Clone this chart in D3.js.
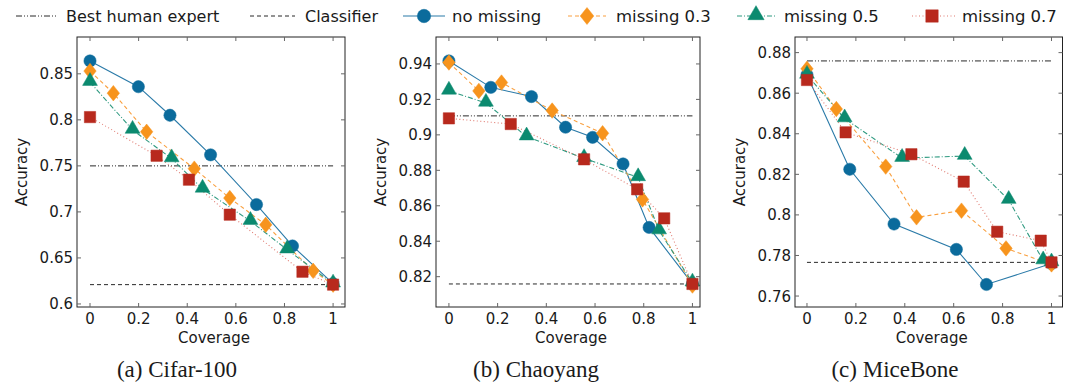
<!DOCTYPE html>
<html>
<head>
<meta charset="utf-8">
<script src="https://cdn.jsdelivr.net/npm/d3@7"></script>
<style>
  body { margin: 0; background: #fff; }
  svg text { font-family: "DejaVu Sans", sans-serif; fill: #1a1a1a; }
  .title { font-family: "Liberation Serif", serif; }
</style>
</head>
<body>
<svg id="chart" width="1065" height="383"></svg>
<script>
const seriesNames = ["no missing", "missing 0.3", "missing 0.5", "missing 0.7"];

// Cifar-100
const cifarNoMissing = [[0, 0.864], [0.199, 0.836], [0.329, 0.805], [0.496, 0.762], [0.685, 0.708], [0.833, 0.663], [1, 0.622]];
const cifarMiss03 = [[0, 0.853], [0.096, 0.829], [0.233, 0.787], [0.429, 0.747], [0.575, 0.715], [0.723, 0.686], [0.918, 0.636], [1, 0.621]];
const cifarMiss05 = [[0, 0.841], [0.175, 0.789], [0.336, 0.758], [0.463, 0.725], [0.660, 0.690], [0.811, 0.659], [1, 0.622]];
const cifarMiss07 = [[0, 0.803], [0.274, 0.761], [0.407, 0.735], [0.575, 0.697], [0.874, 0.635], [1, 0.621]];
const cifarExpert = 0.75, cifarClassifier = 0.621;

// Chaoyang
const chaoNoMissing = [[0, 0.9417], [0.172, 0.9268], [0.339, 0.9216], [0.479, 0.9043], [0.590, 0.8986], [0.715, 0.8836], [0.822, 0.8478], [1, 0.8159]];
const chaoMiss03 = [[0, 0.9408], [0.123, 0.9248], [0.216, 0.9295], [0.424, 0.9137], [0.631, 0.9009], [0.795, 0.8636], [1, 0.8150]];
const chaoMiss05 = [[0, 0.9248], [0.152, 0.9180], [0.319, 0.8990], [0.555, 0.8868], [0.777, 0.8760], [0.863, 0.8460], [1, 0.8166]];
const chaoMiss07 = [[0, 0.9093], [0.254, 0.9061], [0.555, 0.8862], [0.773, 0.8693], [0.884, 0.8529], [1, 0.8159]];
const chaoExpert = 0.9107, chaoClassifier = 0.8159;

// MiceBone
const miceNoMissing = [[0, 0.8690], [0.175, 0.8225], [0.356, 0.7955], [0.611, 0.7830], [0.734, 0.7657], [1, 0.7760]];
const miceMiss03 = [[0, 0.8720], [0.120, 0.8522], [0.322, 0.8238], [0.448, 0.7988], [0.632, 0.8021], [0.814, 0.7835], [1, 0.7756]];
const miceMiss05 = [[0, 0.8690], [0.154, 0.8475], [0.389, 0.8280], [0.645, 0.8290], [0.825, 0.8073], [0.966, 0.7775], [1, 0.7765]];
const miceMiss07 = [[0, 0.8665], [0.158, 0.8407], [0.427, 0.8299], [0.641, 0.8164], [0.778, 0.7917], [0.956, 0.7873], [1, 0.7766]];
const miceExpert = 0.8759, miceClassifier = 0.7766;

const xTicks = [0, 0.2, 0.4, 0.6, 0.8, 1];
const cifarYTicks = [0.6, 0.65, 0.7, 0.75, 0.8, 0.85];
const chaoYTicks = [0.82, 0.84, 0.86, 0.88, 0.9, 0.92, 0.94];
const miceYTicks = [0.76, 0.78, 0.8, 0.82, 0.84, 0.86, 0.88];
const titles = ["(a) Cifar-100", "(b) Chaoyang", "(c) MiceBone"];

const colors = ["#0b6b9c", "#f7941d", "#0b8a6f", "#b8291d"];
const lineColors = ["#2a7aa8", "#f9a040", "#2f9a80", "#e07a70"];
const dashes = [null, "4,3", "5,2,1,2", "1,2.5"];

// pgfplots-like diamond: wider than d3's default
const fatDiamond = {
  draw(ctx, size) {
    const h = Math.sqrt(size / 2.5), w = h * 0.8;
    ctx.moveTo(0, -h); ctx.lineTo(w, 0); ctx.lineTo(0, h); ctx.lineTo(-w, 0); ctx.closePath();
  }
};
const shapes = [d3.symbolCircle, fatDiamond, d3.symbolTriangle, d3.symbolSquare];
const sizes = [118, 150, 95, 128];

const panels = [
  { left: 77, right: 345, xd: [-0.0535, 1.049], yd: [0.5967, 0.890], yt: cifarYTicks,
    series: [cifarNoMissing, cifarMiss03, cifarMiss05, cifarMiss07], expert: cifarExpert, clf: cifarClassifier, titleX: 177 },
  { left: 436, right: 700, xd: [-0.053, 1.031], yd: [0.8029, 0.9552], yt: chaoYTicks,
    series: [chaoNoMissing, chaoMiss03, chaoMiss05, chaoMiss07], expert: chaoExpert, clf: chaoClassifier, titleX: 536 },
  { left: 795, right: 1062.5, xd: [-0.049, 1.045], yd: [0.7546, 0.8877], yt: miceYTicks,
    series: [miceNoMissing, miceMiss03, miceMiss05, miceMiss07], expert: miceExpert, clf: miceClassifier, titleX: 895 }
];
const plotTop = 37, plotBottom = 307;

const svg = d3.select("#chart");
const fmt = d => String(+d.toFixed(2));

panels.forEach((p, pi) => {
  const x = d3.scaleLinear().domain(p.xd).range([p.left, p.right]);
  const y = d3.scaleLinear().domain(p.yd).range([plotBottom, plotTop]);
  const g = svg.append("g");

  // reference lines
  g.append("line").attr("x1", x(0)).attr("x2", x(1)).attr("y1", y(p.expert)).attr("y2", y(p.expert))
    .attr("stroke", "#111").attr("stroke-width", 0.9).attr("stroke-dasharray", "6,2,1,2,1,2");
  g.append("line").attr("x1", x(0)).attr("x2", x(1)).attr("y1", y(p.clf)).attr("y2", y(p.clf))
    .attr("stroke", "#111").attr("stroke-width", 0.9).attr("stroke-dasharray", "4,3");

  p.series.forEach((data, si) => {
    const line = d3.line().x(d => x(d[0])).y(d => y(d[1]));
    g.append("path").attr("d", line(data)).attr("fill", "none")
      .attr("stroke", lineColors[si]).attr("stroke-width", 1.1)
      .attr("stroke-dasharray", dashes[si]);
  });
  p.series.forEach((data, si) => {
    g.selectAll(null).data(data).join("path")
      .attr("transform", d => `translate(${x(d[0])},${y(d[1]) + (si === 2 ? -1 : 0)})`)
      .attr("d", d3.symbol(shapes[si], sizes[si]))
      .attr("fill", colors[si]).attr("stroke", colors[si]).attr("stroke-opacity", 0.5).attr("stroke-width", 1);
  });

  // frame
  g.append("rect").attr("x", p.left).attr("y", plotTop).attr("width", p.right - p.left).attr("height", plotBottom - plotTop)
    .attr("fill", "none").attr("stroke", "#222").attr("stroke-width", 1);

  // ticks
  const tl = 4;
  xTicks.forEach(t => {
    g.append("line").attr("x1", x(t)).attr("x2", x(t)).attr("y1", plotBottom).attr("y2", plotBottom - tl).attr("stroke", "#666");
    g.append("line").attr("x1", x(t)).attr("x2", x(t)).attr("y1", plotTop).attr("y2", plotTop + tl).attr("stroke", "#666");
    g.append("text").attr("x", x(t)).attr("y", plotBottom + 16.5).attr("text-anchor", "middle")
      .attr("font-size", 15).text(fmt(t));
  });
  p.yt.forEach(t => {
    g.append("line").attr("x1", p.left).attr("x2", p.left + tl).attr("y1", y(t)).attr("y2", y(t)).attr("stroke", "#666");
    g.append("line").attr("x1", p.right).attr("x2", p.right - tl).attr("y1", y(t)).attr("y2", y(t)).attr("stroke", "#666");
    g.append("text").attr("x", p.left - 4).attr("y", y(t) + 5.5).attr("text-anchor", "end")
      .attr("font-size", 15).text(fmt(t));
  });

  g.append("text").attr("x", (p.left + p.right) / 2 + 3).attr("y", 343).attr("text-anchor", "middle")
    .attr("font-size", 15).text("Coverage");
  g.append("text").attr("transform", `translate(${p.left - 50},${(plotTop + plotBottom) / 2}) rotate(-90)`)
    .attr("text-anchor", "middle").attr("font-size", 15).text("Accuracy");
  g.append("text").attr("class", "title").attr("x", p.titleX).attr("y", 377).attr("text-anchor", "middle")
    .attr("font-size", 23).text(titles[pi]);
});

// legend
const legend = svg.append("g");
const ly = 16;
const refItems = [
  { x0: 16, x1: 57, tx: 66, dash: "6,2,1,2,1,2", label: "Best human expert" },
  { x0: 250, x1: 295, tx: 305, dash: "4,3", label: "Classifier" }
];
refItems.forEach(it => {
  legend.append("line").attr("x1", it.x0).attr("x2", it.x1).attr("y1", ly).attr("y2", ly)
    .attr("stroke", "#111").attr("stroke-width", 0.9).attr("stroke-dasharray", it.dash);
  legend.append("text").attr("x", it.tx).attr("y", ly + 6).attr("font-size", 16).text(it.label);
});
const serItems = [
  { x0: 403, x1: 445, cx: 424, tx: 452 },
  { x0: 568, x1: 606, cx: 587, tx: 616 },
  { x0: 737, x1: 777, cx: 756, tx: 784 },
  { x0: 912, x1: 956, cx: 932, tx: 962 }
];
serItems.forEach((it, si) => {
  legend.append("line").attr("x1", it.x0).attr("x2", it.x1).attr("y1", ly).attr("y2", ly)
    .attr("stroke", lineColors[si]).attr("stroke-width", 1.1).attr("stroke-dasharray", dashes[si]);
  legend.append("path")
    .attr("transform", `translate(${it.cx},${ly + (si === 2 ? -1 : 0)})`)
    .attr("d", d3.symbol(shapes[si], sizes[si] * 1.2))
    .attr("fill", colors[si]).attr("stroke", colors[si]).attr("stroke-opacity", 0.5);
  legend.append("text").attr("x", it.tx).attr("y", ly + 6).attr("font-size", 16.5).text(seriesNames[si]);
});
</script>
</body>
</html>
